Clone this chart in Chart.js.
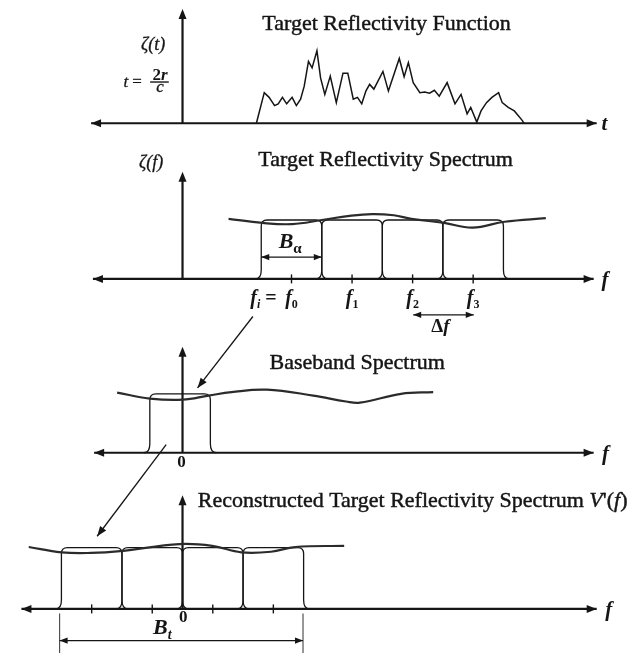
<!DOCTYPE html>
<html>
<head>
<meta charset="utf-8">
<style>
  html, body { margin: 0; padding: 0; background: #fff; }
  #wrap { position: relative; width: 632px; height: 658px; }
</style>
<script src="https://cdn.jsdelivr.net/npm/chart.js@4.4.1/dist/chart.umd.min.js"></script>
</head>
<body>
<div id="wrap"><canvas id="c" width="632" height="658"></canvas></div>
<script>
// ---- Target reflectivity function ζ(t), t = 2r/c (time in Δ units, amplitude) ----
const reflectT = [1.22, 1.35, 1.43, 1.52, 1.58, 1.65, 1.72, 1.81, 1.88, 1.95, 2.01, 2.08, 2.14, 2.22, 2.28,
  2.35, 2.44, 2.54, 2.65, 2.73, 2.82, 2.89, 2.96, 3.03, 3.09, 3.16, 3.31, 3.40, 3.58, 3.66, 3.73, 3.81,
  3.92, 4.00, 4.08, 4.16, 4.24, 4.37, 4.50, 4.60, 4.70, 4.76, 4.86, 4.93, 5.02, 5.11, 5.22, 5.28, 5.38,
  5.48, 5.61, 5.64];
const reflectV = [0.00, 0.52, 0.44, 0.30, 0.33, 0.44, 0.33, 0.44, 0.30, 0.41, 0.63, 1.05, 0.94, 1.23, 0.77,
  0.49, 0.80, 0.35, 0.85, 0.85, 0.41, 0.44, 0.33, 0.55, 0.66, 0.58, 0.88, 0.55, 1.10, 0.79, 1.03, 0.69,
  0.52, 0.53, 0.51, 0.56, 0.46, 0.69, 0.33, 0.49, 0.16, 0.27, 0.02, 0.21, 0.35, 0.44, 0.52, 0.35, 0.27,
  0.21, 0.05, 0.00];

// ---- Target reflectivity spectrum ζ(f) (frequency in Δf units) ----
const spectrumF = [0.76, 1.32, 1.81, 2.30, 2.76, 3.13, 3.49, 3.78, 4.32, 4.79, 5.32, 6.00];
const spectrumV = [1.02, 0.95, 0.93, 1.00, 1.07, 1.10, 1.08, 1.02, 0.95, 0.87, 0.97, 1.03];
const subbandCentres = [1.8, 2.8, 3.8, 4.8];
const subbandTicks = [1.8, 2.8, 3.8, 4.8];
const subbandTickNames = ['0', '1', '2', '3'];

// ---- Baseband spectrum ----
const basebandF = [-1.08, -0.54, 0.00, 0.43, 0.81, 1.39, 2.16, 2.70, 2.93, 3.61, 4.14];
const basebandV = [1.02, 0.92, 0.90, 0.97, 1.03, 1.07, 0.97, 0.87, 0.85, 1.00, 1.03];
const basebandCentres = [-0.04];

// ---- Reconstructed target reflectivity spectrum V'(f) ----
const reconF = [-2.54, -2.00, -1.51, -1.03, -0.05, 0.49, 0.97, 1.46, 1.86, 2.67];
const reconV = [1.05, 0.96, 0.95, 0.98, 1.10, 1.07, 0.96, 0.97, 1.05, 1.07];
const reconCentres = [-1.5, -0.5, 0.5, 1.5];
const reconTicks = [-1.5, -0.5, 0.5, 1.5];

// window width (one sub-band = Δf) and heights
const bandWidth = 1.0;
const spectrumWindowHeight = 1.0;
const basebandWindowHeight = 1.0;
const reconWindowHeight = 1.04;

const FONT = '"Liberation Serif", "Times New Roman", serif';
const INK = '#151515';
const CURVE = '#2b2b2b';

const pts = (xs, ys) => xs.map((x, i) => ({ x, y: ys[i] }));
const onAxis = xs => xs.map(x => ({ x, y: 0 }));

// panel layout: which y scale, axis extent (in x units), vertical axis height
const panels = [
  { y: 'y1', left: -1.51, right: 6.84, top: 1.94 },
  { y: 'y2', left: -1.48, right: 6.79, top: 1.82 },
  { y: 'y3', left: -1.46, right: 6.79, top: 1.80 },
  { y: 'y4', left: -2.66, right: 6.84, top: 1.93 }
];

function P(chart, yId, fx, fy) {
  return [chart.scales.x.getPixelForValue(fx), chart.scales[yId].getPixelForValue(fy)];
}

function head(ctx, x, y, ang, len, half) {
  len = len || 9; half = half || 3.6;
  const c = Math.cos(ang), s = Math.sin(ang);
  ctx.beginPath();
  ctx.moveTo(x, y);
  ctx.lineTo(x - len * c + half * s, y - len * s - half * c);
  ctx.lineTo(x - len * c - half * s, y - len * s + half * c);
  ctx.closePath();
  ctx.fill();
}

function seg(ctx, a, b, w) {
  ctx.lineWidth = w;
  ctx.beginPath();
  ctx.moveTo(a[0], a[1]);
  ctx.lineTo(b[0], b[1]);
  ctx.stroke();
}

function dimArrow(ctx, a, b, w, len, half) {
  seg(ctx, a, b, w);
  const ang = Math.atan2(b[1] - a[1], b[0] - a[0]);
  head(ctx, b[0], b[1], ang, len, half);
  head(ctx, a[0], a[1], ang + Math.PI, len, half);
}

// rounded band-pass window with flared feet
function bandWindow(ctx, chart, yId, c, w, h) {
  const [L, B] = P(chart, yId, c - w / 2, 0);
  const [R, T] = P(chart, yId, c + w / 2, h);
  const r = 6, fx = 6, fy = 9;
  ctx.beginPath();
  ctx.moveTo(L - fx, B);
  ctx.quadraticCurveTo(L, B, L, B - fy);
  ctx.lineTo(L, T + r);
  ctx.quadraticCurveTo(L, T, L + r, T);
  ctx.lineTo(R - r, T);
  ctx.quadraticCurveTo(R, T, R, T + r);
  ctx.lineTo(R, B - fy);
  ctx.quadraticCurveTo(R, B, R + fx, B);
  ctx.stroke();
}

// text made of runs: [text, size, style, dy]; a hairline outline gives the heavier print look
function rich(ctx, runs, x, y, align, outline) {
  let total = 0;
  runs.forEach(r => { ctx.font = `${r[2]} ${r[1]}px ${FONT}`; r.w = ctx.measureText(r[0]).width; total += r.w; });
  let cx = align === 'center' ? x - total / 2 : align === 'right' ? x - total : x;
  ctx.textAlign = 'left';
  ctx.textBaseline = 'alphabetic';
  runs.forEach(r => {
    ctx.font = `${r[2]} ${r[1]}px ${FONT}`;
    ctx.fillText(r[0], cx, y + (r[3] || 0));
    if (outline) { ctx.lineWidth = outline; ctx.strokeText(r[0], cx, y + (r[3] || 0)); }
    cx += r.w;
  });
}

const diagram = {
  id: 'diagram',
  beforeDatasetsDraw(chart) {
    const ctx = chart.ctx;
    ctx.save();
    ctx.strokeStyle = INK; ctx.fillStyle = INK; ctx.lineCap = 'butt';
    // axes with arrowheads
    panels.forEach(p => {
      const a = P(chart, p.y, p.left, 0), b = P(chart, p.y, p.right, 0);
      dimArrow(ctx, a, b, 2.2, 10, 4);
      const o = P(chart, p.y, 0, 0), t = P(chart, p.y, 0, p.top);
      seg(ctx, o, [t[0], t[1] + 6], 2.2);
      head(ctx, t[0], t[1], -Math.PI / 2, 10, 4);
    });
    // band windows
    ctx.lineWidth = 1.3;
    subbandCentres.forEach(c => bandWindow(ctx, chart, 'y2', c, bandWidth, spectrumWindowHeight));
    basebandCentres.forEach(c => bandWindow(ctx, chart, 'y3', c, bandWidth, basebandWindowHeight));
    reconCentres.forEach(c => bandWindow(ctx, chart, 'y4', c, bandWidth, reconWindowHeight));
    ctx.restore();
  },
  afterDatasetsDraw(chart) {
    const ctx = chart.ctx;
    ctx.save();
    ctx.strokeStyle = INK; ctx.fillStyle = INK; ctx.lineJoin = 'round';

    // titles
    let q = P(chart, 'y1', 3.37, 1.575);
    rich(ctx, [['Target Reflectivity Function', 22, '']], q[0], q[1], 'center', 0.45);
    q = P(chart, 'y2', 3.355, 1.917);
    rich(ctx, [['Target Reflectivity Spectrum', 22, '']], q[0], q[1], 'center', 0.45);
    q = P(chart, 'y3', 2.885, 1.417);
    rich(ctx, [['Baseband Spectrum', 22, '']], q[0], q[1], 'center', 0.45);
    q = P(chart, 'y4', 0.253, 1.733);
    rich(ctx, [['Reconstructed Target Reflectivity Spectrum ', 22, ''], ['V', 22, 'italic'], ["'(", 22, ''],
      ['f', 22, 'italic'], [')', 22, '']], q[0], q[1], 'left', 0.45);

    // vertical axis names
    q = P(chart, 'y1', -0.486, 1.242);
    rich(ctx, [['ζ(', 18, 'italic'], ['t', 18, 'italic'], [')', 18, 'italic']], q[0], q[1], 'center', 0.3);
    q = P(chart, 'y2', -0.519, 1.883);
    rich(ctx, [['ζ(', 18, 'italic'], ['f', 18, 'italic'], [')', 18, 'italic']], q[0], q[1], 'center', 0.3);

    // t = 2r / c
    q = P(chart, 'y1', -0.6, 0.608);
    rich(ctx, [['t', 17, 'italic'], [' = ', 17, '']], q[0], q[1], 'right', 0.3);
    q = P(chart, 'y1', -0.373, 0.742);
    rich(ctx, [['2', 17, 'bold'], ['r', 17, 'bold italic']], q[0], q[1], 'center');
    q = P(chart, 'y1', -0.373, 0.525);
    rich(ctx, [['c', 17, 'italic']], q[0], q[1], 'center', 0.3);
    seg(ctx, P(chart, 'y1', -0.535, 0.70), P(chart, 'y1', -0.227, 0.70), 1.4);

    // horizontal axis names
    const axName = (yId, fx, txt) => {
      const [x, y] = P(chart, yId, fx, 0);
      rich(ctx, [[txt, 21, 'bold italic']], x, y + 7, 'left');
    };
    axName('y1', 6.92, 't');
    axName('y2', 6.92, 'f');
    axName('y3', 6.93, 'f');
    axName('y4', 6.98, 'f');

    // origin labels
    q = P(chart, 'y3', -0.016, -0.25);
    rich(ctx, [['0', 17, 'bold']], q[0], q[1], 'center');
    q = P(chart, 'y4', 0.01, -0.217);
    rich(ctx, [['0', 17, 'bold']], q[0], q[1], 'center');

    // sub-band centre frequencies
    subbandTicks.forEach((fc, i) => {
      const [x, y] = P(chart, 'y2', fc, -0.433);
      rich(ctx, [['f', 20, 'bold italic'], [subbandTickNames[i], 12, 'bold', 4]], x, y, 'center');
    });
    q = P(chart, 'y2', 1.637, -0.433);
    rich(ctx, [['f', 20, 'bold italic'], ['i', 12, 'bold italic', 4], [' = ', 20, 'bold']], q[0], q[1], 'right');

    // B_alpha
    dimArrow(ctx, P(chart, 'y2', 1.30, 0.37), P(chart, 'y2', 2.30, 0.37), 1.4, 8, 3.2);
    q = P(chart, 'y2', 1.588, 0.517);
    rich(ctx, [['B', 22, 'bold italic'], ['α', 15, 'bold', 5]], q[0], q[1], 'left');

    // Δf
    dimArrow(ctx, P(chart, 'y2', 3.81, -0.61), P(chart, 'y2', 4.81, -0.61), 1.4, 8, 3.2);
    q = P(chart, 'y2', 4.26, -0.9);
    rich(ctx, [['Δ', 19, 'bold'], ['f', 19, 'bold italic']], q[0], q[1], 'center');

    // B_t
    ctx.strokeStyle = '#444';
    seg(ctx, P(chart, 'y4', -2.03, -0.08), P(chart, 'y4', -2.03, -0.75), 1.1);
    seg(ctx, P(chart, 'y4', 1.99, -0.08), P(chart, 'y4', 1.99, -0.75), 1.1);
    ctx.strokeStyle = INK;
    dimArrow(ctx, P(chart, 'y4', -2.03, -0.538), P(chart, 'y4', 1.99, -0.538), 1.4, 8, 3.2);
    q = P(chart, 'y4', -0.486, -0.433);
    rich(ctx, [['B', 22, 'bold italic'], ['t', 14, 'bold italic', 5]], q[0], q[1], 'left');

    // arrows linking the panels
    const link = (ya, fa, va, yb, fb, vb) => {
      const a = P(chart, ya, fa, va), b = P(chart, yb, fb, vb);
      seg(ctx, a, b, 1.3);
      head(ctx, b[0], b[1], Math.atan2(b[1] - a[1], b[0] - a[0]), 10, 3.8);
    };
    link('y2', 1.162, -0.638, 'y3', 0.248, 1.10);
    link('y3', -0.27, 0.138, 'y4', -1.41, 1.233);

    ctx.restore();
  }
};

const curveStyle = { borderColor: CURVE, borderWidth: 2.2, pointRadius: 0, tension: 0.4, fill: false };
const tickStyle = { showLine: false, pointStyle: 'line', pointRotation: 90, pointRadius: 4.5,
  pointBorderWidth: 1.4, pointBorderColor: INK, borderColor: INK };

function draw() {
  new Chart(document.getElementById('c'), {
    type: 'line',
    data: {
      datasets: [
        { data: pts(reflectT, reflectV), yAxisID: 'y1', borderColor: INK, borderWidth: 1.5, pointRadius: 0, tension: 0 },
        Object.assign({ data: pts(spectrumF, spectrumV), yAxisID: 'y2' }, curveStyle),
        Object.assign({ data: pts(basebandF, basebandV), yAxisID: 'y3' }, curveStyle),
        Object.assign({ data: pts(reconF, reconV), yAxisID: 'y4' }, curveStyle),
        Object.assign({ data: onAxis(subbandTicks), yAxisID: 'y2' }, tickStyle),
        Object.assign({ data: onAxis(reconTicks), yAxisID: 'y4' }, tickStyle)
      ]
    },
    options: {
      responsive: false,
      devicePixelRatio: 1,
      animation: false,
      layout: { padding: 0 },
      plugins: { legend: { display: false }, tooltip: { enabled: false }, title: { display: false } },
      scales: {
        x: { type: 'linear', min: -2.917, max: 7.326, display: false },
        y1: { type: 'linear', min: -8.975, max: 1.992, display: false },
        y2: { type: 'linear', min: -6.333, max: 4.633, display: false },
        y3: { type: 'linear', min: -3.383, max: 7.583, display: false },
        y4: { type: 'linear', min: -0.733, max: 10.233, display: false }
      }
    },
    plugins: [diagram]
  });
}

// make sure the serif faces are ready before the canvas text is drawn
const faces = ['22px "Liberation Serif"', 'italic 18px "Liberation Serif"',
  'bold 17px "Liberation Serif"', 'bold italic 20px "Liberation Serif"'];
Promise.all(faces.map(f => document.fonts.load(f, 'Tfζ0Δα'))).then(draw, draw);
</script>
</body>
</html>
